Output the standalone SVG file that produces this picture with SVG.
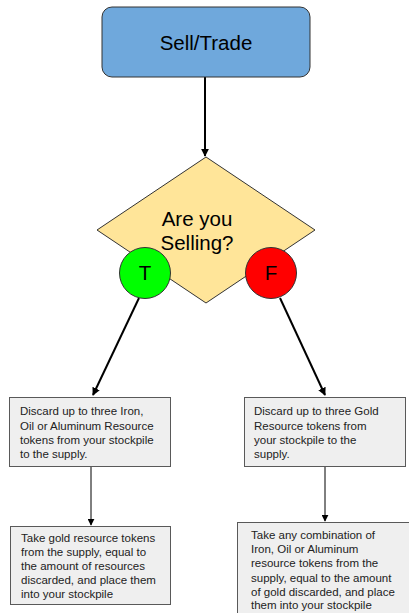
<svg xmlns="http://www.w3.org/2000/svg" width="409" height="613" viewBox="0 0 409 613">
<style>
text{font-family:"Liberation Sans",Arial,sans-serif;fill:#000}
.big{font-size:20.5px;text-anchor:middle}
.sm{font-size:11.5px;fill:#222}
.box{fill:#efefef;stroke:#595959;stroke-width:1}
.ln{stroke:#000;fill:none}
</style>
<defs>
<marker id="ah" viewBox="0 0 10 10" refX="9" refY="5" markerWidth="4" markerHeight="4" orient="auto" markerUnits="strokeWidth">
<path d="M0,0L10,5L0,10z" fill="#000"/>
</marker>
<marker id="ahs" viewBox="0 0 10 10" refX="9" refY="5" markerWidth="7" markerHeight="7" orient="auto" markerUnits="strokeWidth">
<path d="M0,0L10,5L0,10z" fill="#000"/>
</marker>
</defs>
<g id="connectors">
<line class="ln" x1="205" y1="77" x2="205" y2="156" stroke-width="2" marker-end="url(#ah)"/>
<line class="ln" x1="139" y1="298" x2="93" y2="395" stroke-width="2" marker-end="url(#ah)"/>
<line class="ln" x1="280" y1="298" x2="325" y2="395" stroke-width="2" marker-end="url(#ah)"/>
<line class="ln" x1="91" y1="467" x2="91" y2="525" stroke-width="1" marker-end="url(#ahs)"/>
<line class="ln" x1="325" y1="467" x2="325" y2="521" stroke-width="1" marker-end="url(#ahs)"/>
</g>
<g id="start">
<rect x="102" y="7" width="208" height="70" rx="10" fill="#6fa8dc" stroke="#333" stroke-width="1"/>
<text class="big" x="206" y="50">Sell/Trade</text>
</g>
<g id="decision">
<polygon points="206,157 315,230 206,303 97,230" fill="#ffe599" stroke="#333" stroke-width="1"/>
<text class="big" x="197" y="226">Are you</text>
<text class="big" x="197" y="250">Selling?</text>
</g>
<g id="true">
<circle cx="145" cy="273" r="25.5" fill="#00ff00" stroke="#333" stroke-width="1"/>
<text class="big" x="145" y="280">T</text>
</g>
<g id="false">
<circle cx="271" cy="273" r="25.5" fill="#ff0000" stroke="#333" stroke-width="1"/>
<text class="big" x="271" y="280">F</text>
</g>
<g id="discard-left">
<rect class="box" x="9.5" y="397.5" width="161" height="69"/>
<text class="sm" x="20" y="415">Discard up to three Iron,</text>
<text class="sm" x="20" y="429.5">Oil or Aluminum Resource</text>
<text class="sm" x="20" y="444">tokens from your stockpile</text>
<text class="sm" x="20" y="457.5">to the supply.</text>
</g>
<g id="discard-right">
<rect class="box" x="244.5" y="397.5" width="161" height="69"/>
<text class="sm" x="254" y="415">Discard up to three Gold</text>
<text class="sm" x="254" y="429.5">Resource tokens from</text>
<text class="sm" x="254" y="444">your stockpile to the</text>
<text class="sm" x="254" y="457.5">supply.</text>
</g>
<g id="take-left">
<rect class="box" x="10.5" y="526.5" width="160" height="78"/>
<text class="sm" x="21" y="542">Take gold resource tokens</text>
<text class="sm" x="21" y="556">from the supply, equal to</text>
<text class="sm" x="21" y="570">the amount of resources</text>
<text class="sm" x="21" y="583.5">discarded, and place them</text>
<text class="sm" x="21" y="597.5">into your stockpile</text>
</g>
<g id="take-right">
<rect class="box" x="237.5" y="522.5" width="180" height="100"/>
<text class="sm" x="251" y="539">Take any combination of</text>
<text class="sm" x="251" y="553">Iron, Oil or Aluminum</text>
<text class="sm" x="251" y="567">resource tokens from the</text>
<text class="sm" x="251" y="581.5">supply, equal to the amount</text>
<text class="sm" x="251" y="595.5">of gold discarded, and place</text>
<text class="sm" x="251" y="609">them into your stockpile</text>
</g>
</svg>
